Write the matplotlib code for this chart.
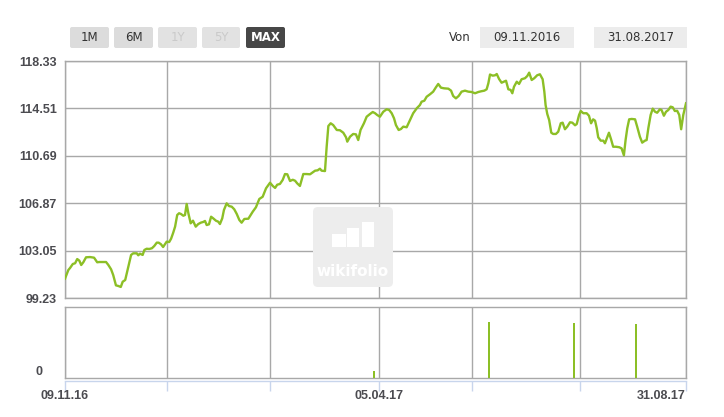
import matplotlib
matplotlib.use("Agg")
import matplotlib.pyplot as plt
from matplotlib.patches import FancyBboxPatch, Rectangle
from matplotlib.transforms import Affine2D, blended_transform_factory

# price series (day offset from 09.11.2016, value)
day = [
    0, 1.6, 2.4, 3.7, 4.8, 5.8, 6.8, 7.7, 8.7, 10.0,
    11.9, 13.8, 14.6, 15.3, 16.3, 18.2, 19.5, 20.6, 21.9, 22.9,
    24.2, 25.3, 26.5, 27.4, 28.6, 30.1, 31.4, 32.4, 34.1, 34.8,
    35.6, 36.9, 37.7, 38.8, 40.0, 41.3, 42.4, 43.6, 44.5, 45.6,
    46.6, 47.5, 48.3, 49.5, 50.4, 51.4, 52.3, 53.3, 54.2, 55.1,
    56.2, 57.0, 57.8, 58.6, 59.7, 60.8, 62.1, 63.3, 64.5, 65.7,
    66.5, 67.3, 68.4, 69.4, 70.4, 71.7, 72.8, 73.6, 74.7, 75.5,
    76.8, 77.9, 79.2, 80.4, 81.6, 82.8, 83.9, 85.2, 87.1,
    89.2, 90.7, 92.3, 93.9, 95.5, 97.4, 98.7, 99.8, 100.8, 102.1,
    103.4, 104.5, 105.6, 106.9, 108.2, 109.3, 110.3, 111.6, 112.4, 113.2,
    114.8, 116.4, 117.7, 118.8, 120.0, 121.1, 121.9, 123.5, 124.3, 125.1,
    126.2, 127.4, 129.1, 130.6, 132.2, 133.5, 134.1, 135.4, 136.9, 138.2,
    139.3, 140.4, 142.0, 143.3, 144.9, 146.2, 147.3, 148.3, 149.6, 151.2,
    152.8, 154.0, 155.2, 156.3, 157.2, 158.5, 159.6, 160.7, 162.3, 163.9,
    165.4, 167.1, 168.6, 169.4, 170.7, 171.8, 173.4, 174.9, 176.2, 177.3,
    178.6, 180.0, 182.1, 183.4, 184.4, 185.7, 187.0, 188.4, 190.0, 191.6,
    193.2, 194.8, 196.3,
    197.7,
    199.2, 200.3, 201.1, 201.9, 203.2, 204.3, 205.1, 206.2, 207.4, 208.5,
    209.5, 210.6, 211.7, 212.5, 213.3, 214.6, 215.7, 216.9, 218.5, 219.6,
    220.5, 221.7, 222.9, 224.3, 225.6, 226.9, 227.7, 228.3, 229.1, 230.0,
    231.0, 231.9, 233.2, 234.3, 235.5, 236.4, 237.5, 238.6, 239.9, 241.0,
    242.3, 243.1, 244.2, 245.0, 246.2, 247.8, 248.9, 249.9, 250.9, 251.8,
    252.6, 253.3, 254.5, 255.7, 256.5, 257.6, 258.4, 259.4, 260.4, 261.7,
    263.3, 264.4, 265.5, 266.3, 267.1, 268.0, 269.2, 270.8, 271.8, 273.1,
    274.2, 275.5, 276.3, 277.1, 278.2, 279.2, 280.3, 281.3, 282.6, 283.4,
    284.5, 285.5, 286.6, 287.7, 288.7, 289.7, 290.8, 291.8, 292.7, 293.7,
    295.0,
]
value = [
    100.79, 101.49, 101.65, 101.97, 102.03, 102.37, 102.24, 101.89, 102.11, 102.51,
    102.53, 102.48, 102.29, 102.11, 102.13, 102.13, 102.13, 101.89, 101.54, 101.08,
    100.25, 100.20, 100.12, 100.54, 100.68, 101.75, 102.70, 102.83, 102.83, 102.67,
    102.80, 102.70, 103.10, 103.20, 103.18, 103.24, 103.42, 103.69, 103.69, 103.56,
    103.34, 103.56, 103.77, 103.74, 104.01, 104.49, 104.98, 105.92, 106.06, 106.00,
    105.86, 105.92, 106.81, 106.06, 105.25, 105.46, 104.98, 105.19, 105.30, 105.36,
    105.44, 105.11, 105.17, 105.78, 105.65, 105.46, 105.38, 105.19, 105.65, 106.32,
    106.86, 106.64, 106.59, 106.38, 106.00, 105.52, 105.30, 105.60, 105.62,
    106.19, 106.54, 107.21, 107.39, 108.07, 108.52, 108.26, 108.10, 108.36, 108.42,
    108.74, 109.22, 109.20, 108.66, 108.76, 108.68, 108.47, 108.26, 108.74, 109.22,
    109.22, 109.20, 109.36, 109.49, 109.52, 109.65, 109.49, 109.46, 111.42, 113.09,
    113.31, 113.17, 112.77, 112.75, 112.55, 112.18, 111.83, 112.23, 112.45, 112.42,
    111.96, 112.77, 113.31, 113.84, 114.06, 114.22, 114.12, 113.98, 113.84, 114.24,
    114.44, 114.38, 114.12, 113.71, 113.17, 112.77, 112.85, 113.04, 112.99, 113.58,
    114.12, 114.52, 114.78, 115.05, 115.13, 115.45, 115.65, 115.86, 116.21, 116.48,
    116.18, 116.13, 116.10, 115.94, 115.51, 115.32, 115.51, 115.86, 115.94, 115.86,
    115.83, 115.73, 115.83,
    115.89,
    115.94, 116.05, 116.53, 117.24, 117.15, 117.18, 117.28, 116.88, 116.58, 116.66,
    116.74, 116.05, 116.00, 115.73, 116.26, 116.66, 116.48, 116.86, 116.94, 117.12,
    117.39, 116.80, 116.94, 117.18, 117.26, 116.86, 115.86, 114.78, 114.06, 113.57,
    112.55, 112.45, 112.45, 112.63, 113.31, 113.36, 112.83, 113.04, 113.39, 113.36,
    113.15, 113.25, 113.98, 114.30, 114.12, 114.12, 113.92, 113.31, 113.63, 113.52,
    112.91, 112.18, 111.91, 111.91, 111.70, 112.18, 112.55, 112.02, 111.42, 111.42,
    111.38, 111.29, 110.73, 111.96, 112.91, 113.63, 113.66, 113.63, 113.04, 112.23,
    111.75, 111.91, 111.96, 112.91, 113.98, 114.49, 114.24, 114.16, 114.44, 114.38,
    113.92, 114.24, 114.38, 114.65, 114.60, 114.30, 114.32, 113.98, 112.83, 113.98,
    114.92,
]

# lower panel (trades)
trade_day = [146.8, 201.4, 241.8, 271.2]
trade_size = [0.10, 0.79, 0.775, 0.76]

price_ticks = [99.23, 103.05, 106.87, 110.69, 114.51, 118.33]
grid_days = [0, 48.5, 97.4, 149.2, 193.3, 244.6, 295]
date_labels = {0: "09.11.16", 149.2: "05.04.17", 295: "31.08.17"}
range_buttons = ["1M", "6M", "1Y", "5Y", "MAX"]
disabled = ["1Y", "5Y"]
date_from, date_to = "09.11.2016", "31.08.2017"

GREEN = "#8cbf26"
GRID = "#a8a8a8"
LABEL = "#4b4b50"
TEXT = "#333333"

W, H = 724, 417
fig = plt.figure(figsize=(W / 100, H / 100), dpi=100)
px = Affine2D().scale(1, -1).translate(0, H)  # pixel coords, origin top-left


def axes_at(x0, y0, x1, y1):
    return fig.add_axes([x0 / W, 1 - y1 / H, (x1 - x0) / W, (y1 - y0) / H])


ax = axes_at(65, 61, 686, 298)
ax2 = axes_at(65, 307, 686, 378)

for a in (ax, ax2):
    a.set_xlim(0, 295)
    a.set_xticks(grid_days)
    a.set_xticklabels([])
    a.set_axisbelow(True)
    a.grid(True, axis="x", color=GRID, linewidth=1)
    a.tick_params(length=0)
    for s in a.spines.values():
        s.set_color(GRID)
        s.set_linewidth(1)

ax.set_ylim(price_ticks[0], price_ticks[-1])
ax.set_yticks(price_ticks)
ax.set_yticklabels([f"{t:.2f}" for t in price_ticks], family="Liberation Sans",
                   fontweight="bold", fontsize=9, color=LABEL)
ax.tick_params(axis="y", pad=6)
ax.grid(True, axis="y", color=GRID, linewidth=1)
ax.plot(day, value, color=GREEN, linewidth=1.7, zorder=3)

# watermark
ax.add_patch(FancyBboxPatch((316, 210), 74, 74, boxstyle="round,pad=3,rounding_size=5",
                            transform=px, facecolor="#ededed", edgecolor="none",
                            clip_on=False, zorder=1))
for x, y, w, h in [(332, 234, 14, 13), (347, 228, 12, 19), (362, 222, 12, 25)]:
    ax.add_patch(Rectangle((x, y), w, h, transform=px, facecolor="white",
                           edgecolor="none", clip_on=False, zorder=1.1))
ax.text(353, 272, "wikifolio", transform=px, ha="center", va="center", color="white",
        fontsize=11, fontweight="bold", zorder=1.2)

# lower panel
ax2.set_ylim(0, 1)
ax2.set_yticks([])
ax2.bar(trade_day, trade_size, width=1.0, color=GREEN, zorder=3)
ax2.text(43, 372, "0", transform=px, ha="right", va="center", family="Liberation Sans",
         fontweight="bold", fontsize=9, color=LABEL, clip_on=False)

bt = blended_transform_factory(ax2.transData, ax2.transAxes)
ax2.plot([0, 295], [-0.042, -0.042], transform=bt, color="#c8d5ec", linewidth=1, clip_on=False)
ax2.vlines(grid_days, -0.183, -0.042, transform=bt, color="#c8d5ec", linewidth=1, clip_on=False)
for d, lab in date_labels.items():
    ha = "right" if d == grid_days[-1] else "center"
    ax2.text(d, -0.254, lab, transform=bt, ha=ha, va="center", family="Liberation Sans",
             fontweight="bold", fontsize=9, color=LABEL)

# header buttons
btn_x = [(70, 109), (114, 153), (158, 197), (202, 240), (246, 285)]
for (x0, x1), lab in zip(btn_x, range_buttons):
    if lab == "MAX":
        bg, fg, wt = "#474747", "white", "bold"
    elif lab in disabled:
        bg, fg, wt = "#e2e2e2", "#cacaca", "normal"
    else:
        bg, fg, wt = "#dcdcdc", TEXT, "normal"
    fig.patches.append(FancyBboxPatch((x0 + 2, 29), x1 - x0 - 4, 17,
                                      boxstyle="round,pad=2,rounding_size=2", transform=px,
                                      facecolor=bg, edgecolor="none", figure=fig))
    fig.text(0, 0, lab, transform=px + Affine2D().translate((x0 + x1) / 2, -37.5),
             ha="center", va="center", fontsize=8.5, color=fg, fontweight=wt)

fig.text(0, 0, "Von", transform=px + Affine2D().translate(460, -37.5), ha="center",
         va="center", fontsize=8.5, color=TEXT)
for (x0, x1), lab in zip([(480, 574), (594, 687)], [date_from, date_to]):
    fig.patches.append(Rectangle((x0, 27), x1 - x0, 21, transform=px, facecolor="#ececec",
                                 edgecolor="none", figure=fig))
    fig.text(0, 0, lab, transform=px + Affine2D().translate((x0 + x1) / 2, -37.5),
             ha="center", va="center", fontsize=8.5, color=TEXT)

fig.savefig("out.png", dpi=100)
